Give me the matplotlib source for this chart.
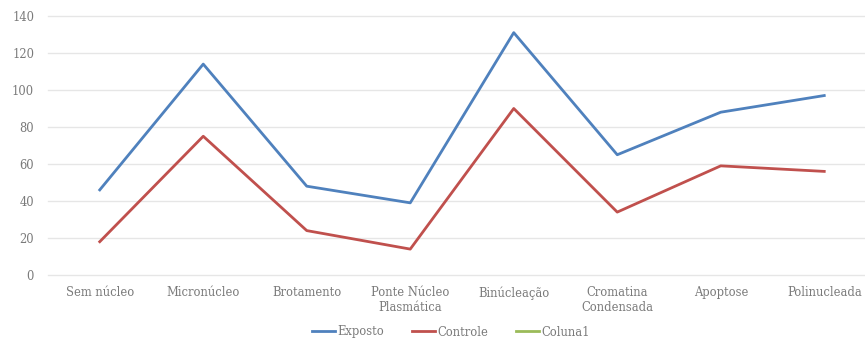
import matplotlib
matplotlib.use('Agg')
import matplotlib.pyplot as plt

categorias = ['Sem núcleo', 'Micronúcleo', 'Brotamento', 'Ponte Núcleo\nPlasmática',
              'Binúcleação', 'Cromatina\nCondensada', 'Apoptose', 'Polinucleada']
exposto = [46, 114, 48, 39, 131, 65, 88, 97]
controle = [18, 75, 24, 14, 90, 34, 59, 56]
coluna1 = []  # empty series, only shown in legend
y_ticks = [0, 20, 40, 60, 80, 100, 120, 140]

plt.rcParams['font.family'] = ['DejaVu Serif']
cinza = '#7a7a7a'

fig = plt.figure(figsize=(8.65, 3.4), dpi=100)
ax = fig.add_axes([48 / 865, 65 / 340, 828 / 865, 259 / 340])

x = list(range(len(categorias)))
ax.plot(x, exposto, color='#4F81BD', lw=2.0, label='Exposto')
ax.plot(x, controle, color='#C0504D', lw=2.0, label='Controle')
ax.plot(coluna1, coluna1, color='#9BBB59', lw=2.0, label='Coluna1')

ax.set_xlim(-0.5, len(categorias) - 0.5)
ax.set_ylim(0, 140)
ax.set_yticks(y_ticks)
ax.set_xticks(x)
ax.set_xticklabels(categorias, fontsize=8.3, color=cinza, linespacing=1.15)
ax.tick_params(axis='y', labelsize=8.3, labelcolor=cinza, length=0, pad=10)
ax.tick_params(axis='x', length=0, pad=8)
ax.grid(axis='y', color='#e6e6e6', lw=1.0)
for gl in ax.get_ygridlines():
    gl.set_clip_on(False)
ax.set_axisbelow(True)
for s in ax.spines.values():
    s.set_visible(False)

fig.legend(loc='center', bbox_to_anchor=(451 / 865, 1 - 332 / 340), ncol=3, frameon=False,
           fontsize=8.3, labelcolor=cinza,
           handlelength=2.0, handletextpad=0.2, columnspacing=2.4)

fig.savefig('out.png', dpi=100)
